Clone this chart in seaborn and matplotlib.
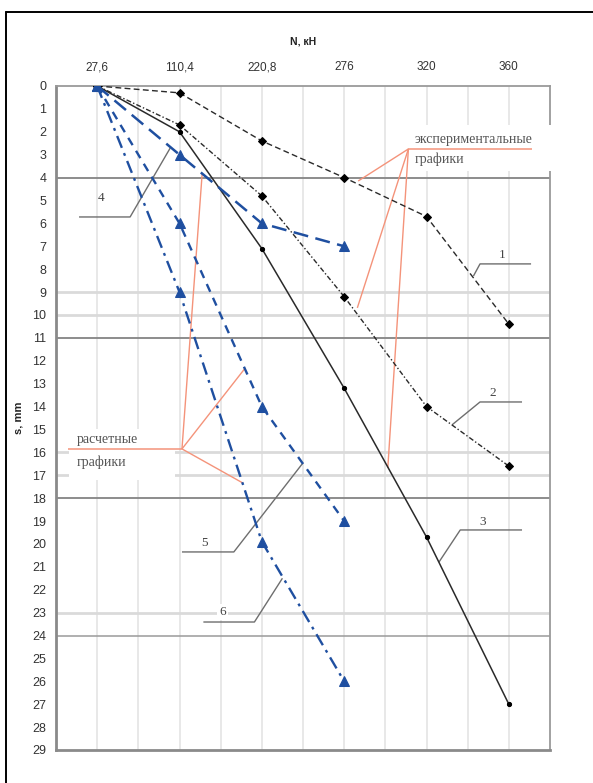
import matplotlib
matplotlib.use("Agg")
import matplotlib.pyplot as plt
from matplotlib.lines import Line2D
from matplotlib.patches import Rectangle
import numpy as np
import pandas as pd
import seaborn as sns

# Load steps N, kN (category axis) and settlements s, mm
loads = ["27,6", "110,4", "220,8", "276", "320", "360"]
exp_1 = [0.0, 0.3, 2.4, 4.0, 5.7, 10.4]
exp_2 = [0.0, 1.7, 4.8, 9.2, 14.0, 16.6]
exp_3 = [0.0, 2.0, 7.1, 13.2, 19.7, 27.0]
calc_4 = [0.0, 3.0, 6.0, 7.0]
calc_5 = [0.0, 6.0, 14.0, 19.0]
calc_6 = [0.0, 9.0, 19.9, 26.0]
s_ticks = list(range(0, 30))

sns.set_theme(style="white")
plt.rcParams["font.family"] = ["Liberation Sans", "DejaVu Sans"]
SERIF = ["Liberation Serif", "DejaVu Serif"]

fig = plt.figure(figsize=(5.93, 7.83), dpi=100)
ax = fig.add_axes([56 / 593, 1 - 750 / 783, 494 / 593, 664 / 783])

BLACK = "#2a2a2a"
BLUE = "#1f4fa0"
ORANGE = "#f4937a"
LEADER = "#6e6e6e"

series = [
    (exp_1, dict(color=BLACK, lw=1.0, linestyle=(0, (4.2, 2.4)), marker="D",
                 markersize=4.5, markerfacecolor="black", markeredgecolor="black")),
    (exp_2, dict(color=BLACK, lw=1.0, linestyle=(0, (3.6, 1.6, 1.0, 1.6)), marker="D",
                 markersize=4.5, markerfacecolor="black", markeredgecolor="black")),
    (exp_3, dict(color=BLACK, lw=1.1, linestyle="-", marker="o",
                 markersize=3, markerfacecolor="black", markeredgecolor="black")),
    (calc_4, dict(color=BLUE, lw=1.8, linestyle=(0, (6.0, 3.0)), marker="^",
                  markersize=7, markerfacecolor=BLUE, markeredgecolor=BLUE)),
    (calc_5, dict(color=BLUE, lw=1.7, linestyle=(0, (3.6, 2.8)), marker="^",
                  markersize=7, markerfacecolor=BLUE, markeredgecolor=BLUE)),
    (calc_6, dict(color=BLUE, lw=1.7, linestyle=(0, (5.4, 2.4, 1.2, 2.4)), marker="^",
                  markersize=7, markerfacecolor=BLUE, markeredgecolor=BLUE)),
]

for values, style in series:
    df = pd.DataFrame({"pos": np.arange(len(values)), "s": values})
    sns.lineplot(data=df, x="pos", y="s", ax=ax, zorder=4, **style)

# axes limits and ticks
ax.set_xlim(-0.5, len(loads) - 0.5)
ax.set_ylim(29, 0)
ax.xaxis.tick_top()
ax.xaxis.set_label_position("top")
ax.set_xticks(range(len(loads)))
ax.set_xticklabels(loads)
ax.set_yticks(s_ticks)
ax.tick_params(axis="x", length=0, pad=9, labelsize=8.5, labelcolor="#333333")
ax.tick_params(axis="y", length=0, pad=7, labelsize=9, labelcolor="#333333")
ax.set_xlabel("N, кН", fontsize=7.5, fontweight="bold", labelpad=12, color="#222222")
ax.set_ylabel("s, mm", fontsize=8, fontweight="bold", labelpad=6, color="#222222")

# grid
for xv in np.arange(0, len(loads) - 0.5, 0.5):
    ax.axvline(xv, color="#e4e4e4", lw=1.2, zorder=0.5)
for yv in [9, 10, 16, 17, 23]:
    ax.axhline(yv, color="#dadada", lw=2.0, zorder=0.6)
for yv in [4, 11, 18]:
    ax.axhline(yv, color="#8c8c8c", lw=1.4, zorder=0.7)
ax.axhline(24, color="#9a9a9a", lw=1.1, zorder=0.7)

for side in ["left", "bottom"]:
    ax.spines[side].set_color("#8a8a8a")
    ax.spines[side].set_linewidth(2.0)
for side in ["top", "right"]:
    ax.spines[side].set_color("#9a9a9a")
    ax.spines[side].set_linewidth(1.3)

# white boxes behind the captions
ax.add_patch(Rectangle((3.75, 1.70), 1.90, 2.0, facecolor="white", edgecolor="none",
                       zorder=3, clip_on=False))
ax.add_patch(Rectangle((-0.34, 15.0), 1.28, 2.2, facecolor="white", edgecolor="none",
                       zorder=1))

def seg(xs, ys, color, lw, z):
    ax.add_line(Line2D(xs, ys, color=color, lw=lw, zorder=z, clip_on=False,
                       solid_capstyle="butt"))

# experimental-graph caption and pointers
hub_e = (3.78, 2.75)
seg([hub_e[0], 5.28], [hub_e[1], hub_e[1]], ORANGE, 1.1, 3.5)
for tx, ty in [(3.17, 4.15), (3.16, 9.69), (3.53, 16.68)]:
    seg([hub_e[0], tx], [hub_e[1], ty], ORANGE, 1.0, 3.5)
ax.text(3.86, 2.48, "экспериментальные", family=SERIF, fontsize=10, color="#555555",
        ha="left", va="baseline", zorder=5, clip_on=False)
ax.text(3.86, 3.35, "графики", family=SERIF, fontsize=10, color="#555555",
        ha="left", va="baseline", zorder=5, clip_on=False)

# calculated-graph caption and pointers
hub_r = (1.03, 15.85)
seg([-0.35, hub_r[0]], [hub_r[1], hub_r[1]], ORANGE, 1.1, 3.5)
for tx, ty in [(1.275, 3.84), (1.80, 12.31), (1.77, 17.34)]:
    seg([hub_r[0], tx], [hub_r[1], ty], ORANGE, 1.0, 3.5)
ax.text(-0.25, 15.6, "расчетные", family=SERIF, fontsize=10, color="#555555",
        ha="left", va="baseline", zorder=5)
ax.text(-0.25, 16.6, "графики", family=SERIF, fontsize=10, color="#555555",
        ha="left", va="baseline", zorder=5)

# numbered leaders
leaders = [
    ("4", (0.05, 4.89), [-0.22, 0.40, 0.887], [5.72, 5.72, 2.71]),
    ("1", (4.92, 7.38), [5.27, 4.65, 4.57], [7.77, 7.77, 8.30]),
    ("2", (4.80, 13.41), [5.16, 4.65, 4.31], [13.80, 13.80, 14.80]),
    ("3", (4.68, 19.04), [5.16, 4.41, 4.15], [19.39, 19.39, 20.80]),
    ("5", (1.30, 19.96), [1.03, 1.66, 2.50], [20.35, 20.35, 16.46]),
    ("6", (1.52, 22.97), [1.29, 1.91, 2.25], [23.41, 23.41, 21.50]),
]
for lab, (lx, ly), xs, ys in leaders:
    seg(xs, ys, LEADER, 1.0, 3.6)
    ax.text(lx, ly, lab, family=SERIF, fontsize=9.5, color="#444444", ha="center",
            va="center", zorder=5,
            bbox=dict(facecolor="white", edgecolor="none", pad=1.5) if lab == "6" else None)

# page frame
fig.add_artist(Line2D([6 / 593, 1.0], [1 - 12 / 783, 1 - 12 / 783], color="black", lw=1.4,
                      transform=fig.transFigure))
fig.add_artist(Line2D([6 / 593, 6 / 593], [0.0, 1 - 12 / 783], color="black", lw=1.4,
                      transform=fig.transFigure))

fig.savefig("out.png", dpi=100, facecolor="white")
